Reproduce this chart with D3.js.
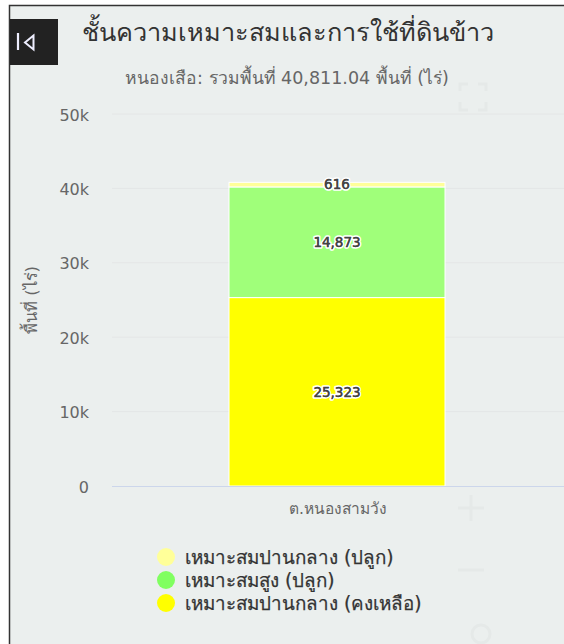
<!DOCTYPE html>
<html><head><meta charset="utf-8">
<script src="https://cdnjs.cloudflare.com/ajax/libs/d3/7.8.5/d3.min.js"></script>
<style>
html,body{margin:0;padding:0;background:#fff;overflow:hidden}
svg{display:block;font-family:"DejaVu Sans","Noto Sans",sans-serif}
</style></head><body><div id="chart"></div>
<script>
const categories = ["ต.หนองสามวัง"];
const seriesNames = ["เหมาะสมปานกลาง (คงเหลือ)", "เหมาะสมสูง (ปลูก)", "เหมาะสมปานกลาง (ปลูก)"];
const seriesColors = ["#ffff00", "#a0ff7a", "#ffff99"];
const legendColors = ["#ffff00", "#80ff60", "#ffff99"];
const seriesValues = [25323, 14873, 616];
const yTicks = [0, 10000, 20000, 30000, 40000, 50000];
const titleText = "ชั้นความเหมาะสมและการใช้ที่ดินข้าว";
const subtitleText = "หนองเสือ: รวมพื้นที่ 40,811.04 พื้นที่ (ไร่)";
const yAxisTitle = "พื้นที่ (ไร่)";

const W = 564, H = 644;
const svg = d3.select("#chart").append("svg").attr("width", W).attr("height", H);
svg.append("rect").attr("x", 9).attr("y", 5).attr("width", W - 9).attr("height", H - 5).attr("fill", "#ebefee");
svg.append("path").attr("d", `M9.5 ${H}V5.500H${W}`).attr("fill", "none").attr("stroke", "#333").attr("stroke-width", 1.5);

// faint map controls showing through the panel
const ghost = svg.append("g").attr("fill", "none").attr("stroke", "#e5e9e8").attr("stroke-width", 3);
ghost.append("path").attr("d", "M460 91V84H468M478 84H486V91M486 102V110H478M468 110H460V102");
ghost.append("path").attr("d", "M458 508H484M471 495V521M458 570H484");
ghost.append("circle").attr("cx", 481).attr("cy", 634).attr("r", 9);

const y = d3.scaleLinear().domain([0, 50000]).range([486, 114]);
const x = d3.scaleBand().domain(categories).range([112, 564]);
const barX = 229, barW = 216;

// back button
svg.append("rect").attr("x", 10).attr("y", 19).attr("width", 48).attr("height", 46).attr("fill", "#222");
svg.append("path").attr("d", "M18 33V50").attr("stroke", "#eef").attr("stroke-width", 2.2);
svg.append("path").attr("d", "M33.500 35.500L25 42.500L33.500 49.500Z").attr("fill", "none").attr("stroke", "#eef").attr("stroke-width", 2);

svg.append("text").attr("x", 287.5).attr("y", 41).attr("text-anchor", "middle").attr("font-size", 25.300).attr("fill", "#333").text(titleText);
svg.append("text").attr("x", 287).attr("y", 84).attr("text-anchor", "middle").attr("font-size", 17.500).attr("fill", "#666").text(subtitleText);

// grid + y axis
svg.append("g").selectAll("line").data(yTicks.slice(1)).join("line")
  .attr("x1", 112).attr("x2", W).attr("y1", d => y(d)).attr("y2", d => y(d))
  .attr("stroke", "#e4e6e6").attr("stroke-width", 1);
const yAxis = svg.append("g").attr("transform", "translate(89,1)")
  .call(d3.axisLeft(y).tickValues(yTicks).tickSize(0).tickPadding(0).tickFormat(d => d === 0 ? "0" : (d / 1000) + "k"));
yAxis.select(".domain").remove();
yAxis.selectAll("text").attr("font-size", 16).attr("fill", "#666").attr("font-family", "'DejaVu Sans',sans-serif");

svg.append("text").attr("transform", "translate(37,300) rotate(-90)").attr("text-anchor", "middle").attr("font-size", 16.500).attr("fill", "#666").text(yAxisTitle);

// stacked bars
let acc = 0;
const stack = seriesValues.map((v, i) => { const s = { v, y0: acc, y1: acc + v, c: seriesColors[i] }; acc += v; return s; });
svg.append("g").selectAll("rect").data(stack).join("rect")
  .attr("x", barX).attr("width", barW)
  .attr("y", d => y(d.y1)).attr("height", d => y(d.y0) - y(d.y1))
  .attr("fill", d => d.c).attr("stroke", "#fff").attr("stroke-width", 1);

svg.append("g").selectAll("text").data(stack).join("text")
  .attr("x", barX + barW / 2).attr("y", d => y((d.y0 + d.y1) / 2)).attr("dy", "0.35em")
  .attr("text-anchor", "middle").attr("font-size", 13.500).attr("fill", "#444")
  .attr("stroke", "#fff").attr("stroke-width", 3.5).attr("stroke-linejoin", "round").attr("paint-order", "stroke")
  .text(d => d3.format(",")(d.v));
svg.append("g").selectAll("text").data(stack).join("text")
  .attr("x", barX + barW / 2).attr("y", d => y((d.y0 + d.y1) / 2)).attr("dy", "0.35em")
  .attr("text-anchor", "middle").attr("font-size", 13.500).attr("fill", "#444")
  .attr("stroke", "#444").attr("stroke-width", 0.35)
  .text(d => d3.format(",")(d.v));

// x axis
svg.append("line").attr("x1", 112).attr("x2", W).attr("y1", 486.5).attr("y2", 486.5).attr("stroke", "#ccd6eb");
svg.append("text").attr("x", x(categories[0]) + x.bandwidth() / 2).attr("y", 514).attr("text-anchor", "middle").attr("font-size", 15.500).attr("fill", "#666").text(categories[0]);

// legend
const legendOrder = [2, 1, 0];
const lg = svg.append("g").selectAll("g").data(legendOrder).join("g").attr("transform", (d, i) => `translate(0,${557 + i * 23})`);
lg.append("circle").attr("cx", 166).attr("cy", 0).attr("r", 9).attr("fill", d => legendColors[d]);
lg.append("text").attr("x", 185).attr("y", 0).attr("dy", "0.35em").attr("font-size", 18.800).attr("fill", "#333").attr("stroke", "#333").attr("stroke-width", 0.25).text(d => seriesNames[d]);
</script></body></html>
